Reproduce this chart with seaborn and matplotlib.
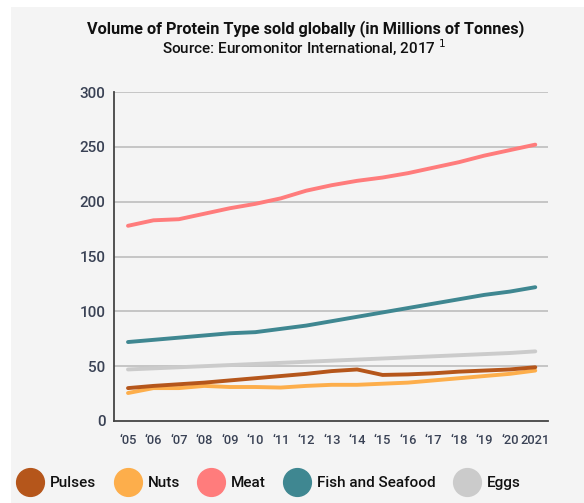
import pandas as pd
import numpy as np
import matplotlib.pyplot as plt
import matplotlib as mpl
from matplotlib.lines import Line2D
import seaborn as sns

years = list(range(2005, 2022))
year_labels = ["\u201805", "\u201806", "\u201807", "\u201808", "\u201809", "\u201810", "\u201811", "\u201812",
               "\u201813", "\u201814", "\u201815", "\u201816", "\u201817", "\u201818", "\u201819", "\u201820", "2021"]

pulses = [30, 32, 33.5, 35, 37, 39, 41, 43, 45.5, 47, 42, 42.5, 43.5, 45, 46, 47, 49]
nuts = [25.5, 30, 30, 32, 31, 31, 30.5, 32, 33, 33, 34, 35, 37, 39, 41, 43, 46]
meat = [178, 183, 184, 189, 194, 198, 203, 210, 215, 219, 222, 226, 231, 236, 242, 247, 252]
fish = [72, 74, 76, 78, 80, 81, 84, 87, 91, 95, 99, 103, 107, 111, 115, 118, 122]
eggs = [47, 48, 49, 50, 51, 52, 53, 54, 55, 56, 57, 58, 59, 60, 61, 62, 63.5]

series = ["Pulses", "Nuts", "Meat", "Fish and Seafood", "Eggs"]
colors = ["#b5561b", "#fdae4b", "#ff7c7c", "#3f8791", "#cbcbcb"]

df = pd.DataFrame({"Pulses": pulses, "Nuts": nuts, "Meat": meat,
                   "Fish and Seafood": fish, "Eggs": eggs}, index=years)
df.index.name = "Year"
long_df = df.reset_index().melt(id_vars="Year", var_name="Type", value_name="Volume")

sns.set_style("white")
plt.rcParams["font.family"] = ["Roboto", "DejaVu Sans"]
bg = "#f4f4f4"
txt = "#3a4255"

fig = plt.figure(figsize=(5.84, 5.03), dpi=100, facecolor="white")
fig.patches.append(mpl.patches.Rectangle((11 / 584, 0), 1, 1 - 7 / 503, transform=fig.transFigure,
                                         facecolor=bg, edgecolor="none", zorder=-10))
ax = fig.add_axes([114 / 584, 1 - 421 / 503, (548 - 114) / 584, (421 - 92) / 503])
ax.set_facecolor(bg)

# gridlines first, under the lines
for v in range(50, 301, 50):
    ax.axhline(v, color="#b8b8b8", lw=1.1, zorder=0)

sns.lineplot(data=long_df, x="Year", y="Volume", hue="Type", hue_order=series[::-1],
             palette=dict(zip(series, colors)), lw=2.8, legend=False, ax=ax, zorder=3)

ax.set_xlim(2004.45, 2021.5)
ax.set_ylim(0, 300)
ax.set_yticks(range(0, 301, 50))
ax.set_xticks(years)
ax.set_xticklabels(year_labels)
ax.set_xlabel("")
ax.set_ylabel("")
for s in ["top", "right"]:
    ax.spines[s].set_visible(False)
for s in ["left", "bottom"]:
    ax.spines[s].set_color("#444444")
    ax.spines[s].set_linewidth(1.3)
ax.tick_params(axis="x", direction="in", length=4, color="#444444", labelsize=9.3, labelcolor=txt, pad=9)
for lab in ax.get_xticklabels():
    lab.set_fontweight("medium")
ax.tick_params(axis="y", direction="out", length=3, color="#444444", labelsize=11, labelcolor=txt, pad=3)
for lab in ax.get_yticklabels():
    lab.set_fontweight("medium")

fig.text(0.524, 0.944, "Volume of Protein Type sold globally (in Millions of Tonnes)",
         ha="center", va="center", fontsize=11.7, fontweight="bold", color="#111111")
fig.text(0.521, 0.906, "Source: Euromonitor International, 2017$^{\\ 1}$",
         ha="center", va="center", fontsize=11, fontweight="medium", color="#111111")

handles = [Line2D([], [], marker="o", ls="none", markersize=20, markerfacecolor=c, markeredgecolor=c)
           for c in colors]
leg = fig.legend(handles, series, loc="center left", bbox_to_anchor=(0.01, 0.04), ncol=5, frameon=False,
                 fontsize=11, handletextpad=0.6, columnspacing=1.35, handlelength=1.4, labelcolor="#111111")
for t in leg.get_texts():
    t.set_fontweight("medium")

fig.savefig("out.png", dpi=100, facecolor="white")
